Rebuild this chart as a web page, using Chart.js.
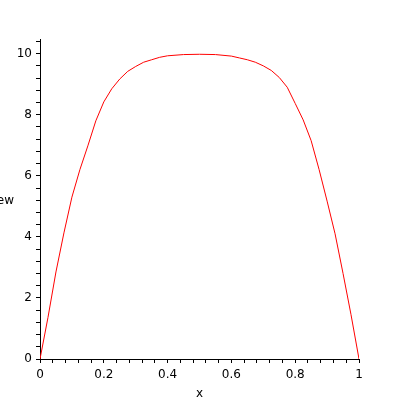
<!DOCTYPE html>
<html>
<head>
<meta charset="utf-8">
<script src="https://cdn.jsdelivr.net/npm/chart.js@4/dist/chart.umd.min.js"></script>
<style>
html,body{margin:0;padding:0;background:#fff;}
#wrap{width:400px;height:400px;}
</style>
</head>
<body>
<div id="wrap"><canvas id="c" width="400" height="400"></canvas></div>
<script>
const xValues = [0, 0.025, 0.05, 0.075, 0.1, 0.125, 0.15, 0.175, 0.2, 0.225, 0.25, 0.275, 0.3, 0.325, 0.35, 0.375, 0.4, 0.45, 0.5, 0.55, 0.6, 0.625, 0.65, 0.675, 0.7, 0.725, 0.75, 0.775, 0.8, 0.825, 0.85, 0.875, 0.9, 0.925, 0.95, 0.975, 1.0];
const yValues = [0, 1.36, 2.85, 4.13, 5.3, 6.2, 6.98, 7.8, 8.42, 8.85, 9.17, 9.42, 9.58, 9.72, 9.8, 9.88, 9.93, 9.97, 9.98, 9.97, 9.92, 9.86, 9.8, 9.72, 9.6, 9.45, 9.22, 8.9, 8.37, 7.83, 7.15, 6.2, 5.17, 4.1, 2.8, 1.45, 0];
const xTickLabels = ["0", "0.2", "0.4", "0.6", "0.8", "1"];
const yTickLabels = ["0", "2", "4", "6", "8", "10"];
const xTitle = "x";
const yTitle = "ew";

const points = xValues.map((x, i) => ({x: x, y: yValues[i]}));
const FONT = "DejaVu Sans";

function labelFor(v, step, labels) {
  const k = v / step;
  const r = Math.round(k);
  if (Math.abs(k - r) < 1e-6 && r >= 0 && r < labels.length) return labels[r];
  return "";
}

const titlesPlugin = {
  id: "titles",
  afterDraw(chart) {
    const ctx = chart.ctx;
    const xs = chart.scales.x;
    ctx.save();
    ctx.fillStyle = "#000";
    ctx.font = "12px '" + FONT + "'";
    ctx.textBaseline = "middle";
    ctx.textAlign = "center";
    ctx.fillText(xTitle, (xs.left + xs.right) / 2, 394);
    ctx.textAlign = "right";
    ctx.fillText(yTitle, 14, 201);
    ctx.restore();
  }
};

new Chart(document.getElementById("c"), {
  type: "line",
  data: {
    datasets: [{
      data: points,
      borderColor: "#ff0000",
      borderWidth: 1,
      pointRadius: 0,
      tension: 0,
      fill: false
    }]
  },
  options: {
    responsive: false,
    animation: false,
    devicePixelRatio: 1,
    layout: {padding: {top: 39, right: 41, left: 0, bottom: 0}},
    plugins: {legend: {display: false}, tooltip: {enabled: false}},
    scales: {
      x: {
        type: "linear",
        min: 0,
        max: 1,
        afterFit(s) { s.height = 41; },
        border: {display: true, color: "#000", width: 1},
        grid: {display: true, drawOnChartArea: false, drawTicks: true, tickLength: 4, color: "#000"},
        ticks: {
          stepSize: 0.04,
          includeBounds: false,
          autoSkip: false,
          maxRotation: 0,
          padding: 5,
          color: "#000",
          font: {family: FONT, size: 12},
          callback: (v) => labelFor(v, 0.2, xTickLabels)
        }
      },
      y: {
        type: "linear",
        min: 0,
        max: 10.48,
        afterFit(s) { s.width = 40; },
        border: {display: true, color: "#000", width: 1},
        grid: {display: true, drawOnChartArea: false, drawTicks: true, tickLength: 4, color: "#000"},
        ticks: {
          stepSize: 0.4,
          includeBounds: false,
          autoSkip: false,
          padding: 4,
          color: "#000",
          font: {family: FONT, size: 12},
          callback: (v) => labelFor(v, 2, yTickLabels)
        }
      }
    }
  },
  plugins: [titlesPlugin]
});
</script>
</body>
</html>
